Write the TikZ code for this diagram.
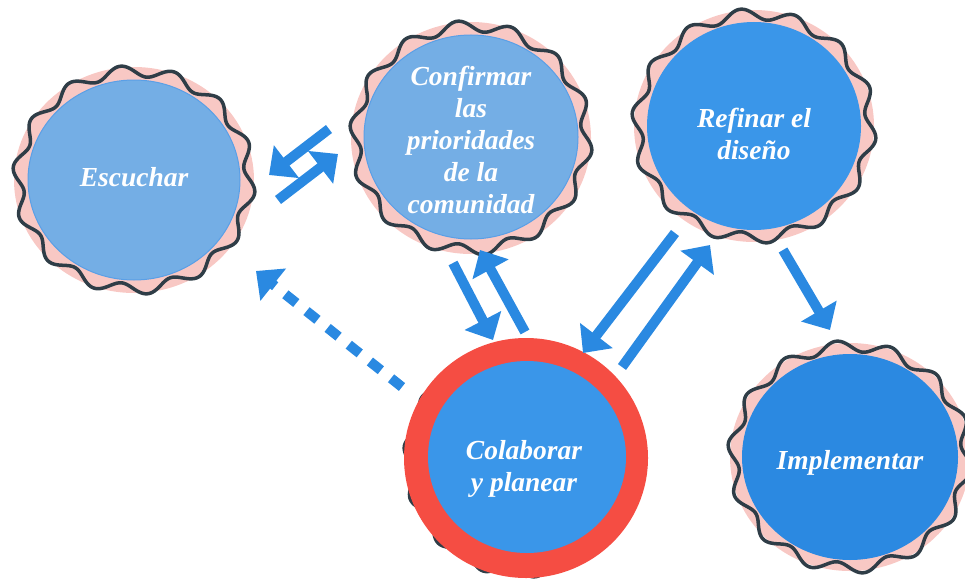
\documentclass[tikz,border=0pt]{standalone}
\usepackage{fontspec}
\setmainfont{Liberation Serif}
\usetikzlibrary{arrows.meta}
\definecolor{halo}{HTML}{F8C8C4}
\definecolor{wavec}{HTML}{2F3D47}
\definecolor{lightblue}{HTML}{74AEE5}
\definecolor{lightrim}{HTML}{5A9FE6}
\definecolor{midblue}{HTML}{3A96E9}
\definecolor{deepblue}{HTML}{2B89E1}
\definecolor{ringred}{HTML}{F54D43}
\definecolor{arrowblue}{HTML}{2A89E1}
\newcommand\wavering[4]{%
  \draw[wavestyle, shift={(#1,#2)}] plot[variable=\t, domain=0:359, samples=360, smooth cycle]
    ({(#3+5.5*sin(14*\t))*cos(\t)},{(#4+5.5*sin(14*\t))*sin(\t)});}
\begin{document}
\begin{tikzpicture}[x=1pt,y=-1pt,
  wavestyle/.style={draw=wavec, line width=3.5pt},
  lbl/.style={text=white, align=center, font=\fontsize{27.5}{32}\selectfont\bfseries\itshape, inner sep=0pt},
  arr/.style={draw=arrowblue, line width=10pt, -{Triangle[width=40pt,length=22pt]}},
  dasharr/.style={arr, dash pattern=on 14pt off 13pt}]
\useasboundingbox (0,0) rectangle (965,578);
% Escuchar
\fill[halo] (134,180) ellipse [x radius=120, y radius=113];
\fill[lightblue, draw=lightrim, line width=1pt] (134,180) ellipse [x radius=106, y radius=100];
\wavering{134}{180}{116}{109}
\node[lbl] (esc) at (134,177) {Escuchar};
% Confirmar
\fill[halo] (471,138) ellipse [x radius=120, y radius=116];
\fill[lightblue, draw=lightrim, line width=1pt] (471,137) ellipse [x radius=107, y radius=102];
\wavering{471}{138}{116}{112}
\node[lbl] (conf) at (471,140) {Confirmar\\las\\prioridades\\de la\\comunidad};
% Refinar
\fill[halo] (754,126) ellipse [x radius=120, y radius=116];
\fill[midblue] (754,126) ellipse [x radius=107, y radius=104];
\wavering{754}{126}{117}{112}
\node[lbl] (ref) at (754,134) {Refinar el\\diseño};
% Implementar
\fill[halo] (850,457) ellipse [x radius=120, y radius=114];
\fill[deepblue] (850,457) ellipse [x radius=108, y radius=103];
\wavering{850}{457}{117}{111}
\node[lbl] (impl) at (850,463) {Implementar};
% Colaborar
\wavering{522}{460}{113}{112}
\fill[ringred] (526,458) ellipse [x radius=122, y radius=120];
\fill[midblue] (527,457) ellipse [x radius=99, y radius=96];
\node[lbl] (col) at (524,469) {Colaborar\\y planear};
% arrow end points
\coordinate (a1s) at (329,129); \coordinate (a1e) at (269,175);
\coordinate (a2s) at (278,200); \coordinate (a2e) at (338,154);
\coordinate (b1s) at (453,263); \coordinate (b1e) at (493,340);
\coordinate (b2s) at (525,332); \coordinate (b2e) at (480,250);
\coordinate (c1s) at (675,233); \coordinate (c1e) at (583,353);
\coordinate (c2s) at (622,367); \coordinate (c2e) at (710,245);
\coordinate (d1s) at (783,250); \coordinate (d1e) at (830,330);
\coordinate (e1s) at (402,387); \coordinate (e1e) at (256,271);
\draw[arr] (a1s) -- (a1e);
\draw[arr] (a2s) -- (a2e);
\draw[arr] (b1s) -- (b1e);
\draw[arr] (b2s) -- (b2e);
\draw[arr] (c1s) -- (c1e);
\draw[arr] (c2s) -- (c2e);
\draw[arr] (d1s) -- (d1e);
\draw[dasharr] (e1s) -- (e1e);
\end{tikzpicture}
\end{document}
